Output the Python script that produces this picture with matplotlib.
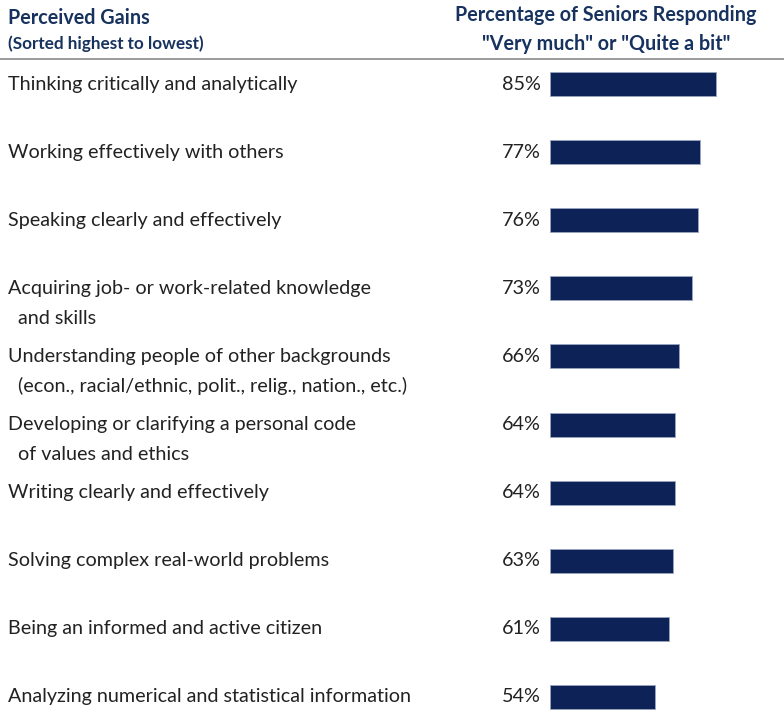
import matplotlib
matplotlib.use("Agg")
import matplotlib.pyplot as plt
from matplotlib.transforms import blended_transform_factory

categories = [
    "Thinking critically and analytically",
    "Working effectively with others",
    "Speaking clearly and effectively",
    "Acquiring job- or work-related knowledge\n  and skills",
    "Understanding people of other backgrounds\n  (econ., racial/ethnic, polit., relig., nation., etc.)",
    "Developing or clarifying a personal code\n  of values and ethics",
    "Writing clearly and effectively",
    "Solving complex real-world problems",
    "Being an informed and active citizen",
    "Analyzing numerical and statistical information",
]
values = [85, 77, 76, 73, 66, 64, 64, 63, 61, 54]

W, H = 784, 711
plt.rcParams['font.family'] = ['Lato', 'DejaVu Sans']
fig = plt.figure(figsize=(W / 100, H / 100), dpi=100)

bar_color = "#0d2257"
head_color = "#17325e"
text_color = "#222222"

x0 = 550
ppp = 1.95  # pixels per percent
y_first, spacing = 84, 68.1
ax = fig.add_axes([x0 / W, 0, 1 - x0 / W, 1])
ax.set_xlim(0, (W - x0) / ppp)
ax.set_ylim((H - y_first) / spacing, -y_first / spacing)
ax.axis("off")

ys = list(range(len(values)))
ax.barh(ys, values, height=24 / spacing, color=bar_color, edgecolor="#9aa6c0", linewidth=0.6)

tr = blended_transform_factory(fig.transFigure, ax.transData)
fs = 14.2
for y, cat, v in zip(ys, categories, values):
    lines = cat.split("\n")
    for k, ln in enumerate(lines):
        fig.text(8 / W, y + k * 30 / spacing, ln, transform=tr, fontsize=fs,
                 color=text_color, ha="left", va="center")
    fig.text(541 / W, y, f"{v}%", transform=tr, fontsize=fs, color=text_color,
             ha="right", va="center")

fig.text(8 / W, 1 - 18 / H, "Perceived Gains", fontsize=14.2, fontweight="bold",
         color=head_color, ha="left", va="center")
fig.text(8 / W, 1 - 44 / H, "(Sorted highest to lowest)", fontsize=12.3, fontweight="bold",
         color=head_color, ha="left", va="center")
fig.text(606 / W, 1 - 15 / H, "Percentage of Seniors Responding", fontsize=14.2,
         fontweight="bold", color=head_color, ha="center", va="center")
fig.text(606 / W, 1 - 44 / H, "\"Very much\" or \"Quite a bit\"", fontsize=14.2,
         fontweight="bold", color=head_color, ha="center", va="center")

fig.add_artist(plt.Line2D([0, 1], [1 - 59 / H, 1 - 59 / H], transform=fig.transFigure,
                          color="#8a8a8a", linewidth=1.2))

fig.savefig("out.png", dpi=100, facecolor="white")
